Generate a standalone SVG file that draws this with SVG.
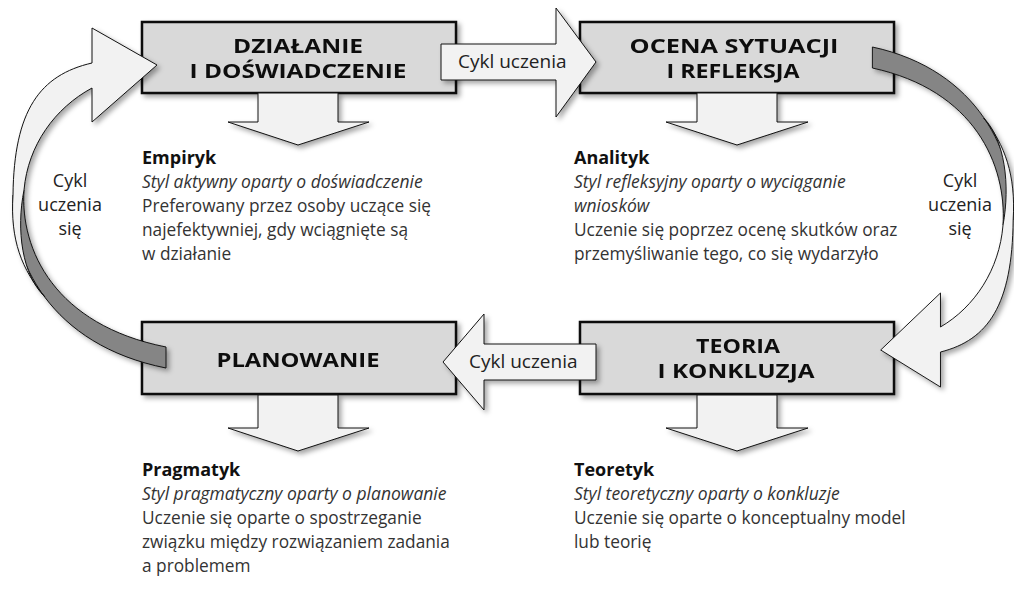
<svg xmlns="http://www.w3.org/2000/svg" width="1014" height="590" viewBox="0 0 1014 590">
<defs>
<filter id="sh" x="-20%" y="-20%" width="140%" height="140%">
<feDropShadow dx="3" dy="3" stdDeviation="2.5" flood-color="#000" flood-opacity="0.35"/>
</filter>
<style>
.box{fill:#d9d9d9;stroke:#111;stroke-width:2.5}
.arr{fill:#f2f2f2;stroke:#111;stroke-width:1}
.dark{fill:#858585;stroke:#111;stroke-width:1}
.ttl{font-family:"Open Sans",sans-serif;font-weight:bold;font-size:20px;fill:#111;text-anchor:middle}
.lbl{font-family:"Open Sans",sans-serif;font-size:19px;fill:#222}
.lblc{font-family:"Open Sans",sans-serif;font-size:18px;fill:#222;text-anchor:middle}
.hd{font-family:"Open Sans",sans-serif;font-weight:bold;font-size:18px;fill:#111}
.it{font-family:"Open Sans",sans-serif;font-style:italic;font-size:17.5px;fill:#333}
.tx{font-family:"Open Sans",sans-serif;font-size:17.3px;fill:#333}
</style>
<g id="curve">
<path class="dark" d="M13,195 C10,260 50,345 166,368 L166,347 C55,325 20,250 24,190 Z"/>
<path class="arr" d="M92,63 L92,28 L157,65 L92,122 L92,88 C55,108 28,145 24,190 C16,230 22,275 45,297 C22,270 10,240 13,195 C14,110 40,75 92,63 Z"/>
</g>
</defs>

<g id="node-dzialanie" filter="url(#sh)">
<rect class="box" x="142" y="22" width="314" height="71"/>
<text class="ttl" x="298" y="53" textLength="130" lengthAdjust="spacingAndGlyphs">DZIAŁANIE</text>
<text class="ttl" x="298" y="78" textLength="217" lengthAdjust="spacingAndGlyphs">I DOŚWIADCZENIE</text>
</g>
<g id="node-ocena" filter="url(#sh)">
<rect class="box" x="580" y="22" width="314" height="71"/>
<text class="ttl" x="734" y="53" textLength="209" lengthAdjust="spacingAndGlyphs">OCENA SYTUACJI</text>
<text class="ttl" x="733" y="78" textLength="133" lengthAdjust="spacingAndGlyphs">I REFLEKSJA</text>
</g>
<g id="node-planowanie" filter="url(#sh)">
<rect class="box" x="142" y="322" width="314" height="72"/>
<text class="ttl" x="298" y="367" textLength="163" lengthAdjust="spacingAndGlyphs">PLANOWANIE</text>
</g>
<g id="node-teoria" filter="url(#sh)">
<rect class="box" x="580" y="322" width="314" height="72"/>
<text class="ttl" x="738" y="353" textLength="84" lengthAdjust="spacingAndGlyphs">TEORIA</text>
<text class="ttl" x="736" y="378" textLength="157" lengthAdjust="spacingAndGlyphs">I KONKLUZJA</text>
</g>

<g id="connectors">
<g id="cycle-left" filter="url(#sh)"><use href="#curve"/></g>
<g id="cycle-right" filter="url(#sh)"><use href="#curve" transform="translate(72,0) scale(0.92,1) rotate(180 518 207.5)"/></g>
<g id="arrows" filter="url(#sh)">
<path class="arr" d="M441,44 H556 V8 L596,62 L556,117 V80 H441 Z"/>
<path class="arr" d="M596,344 H484 V314 L443,362 L484,410 V380 H596 Z"/>
<path class="arr" d="M258,93 V122 H228 L298,145 L369,122 H338 V93 Z"/>
<path class="arr" d="M697,93 V122 H666 L737,145 L808,122 H777 V93 Z"/>
<path class="arr" d="M258,395 V428 H228 L298,451 L369,428 H338 V395 Z"/>
<path class="arr" d="M697,395 V428 H666 L737,451 L808,428 H777 V395 Z"/>
</g>
</g>

<g id="labels">
<text class="lbl" x="458" y="68">Cykl uczenia</text>
<text class="lbl" x="469" y="368">Cykl uczenia</text>
<text class="lblc" x="70" y="187">Cykl</text>
<text class="lblc" x="70" y="211">uczenia</text>
<text class="lblc" x="70" y="235">się</text>
<text class="lblc" x="960" y="187">Cykl</text>
<text class="lblc" x="960" y="211">uczenia</text>
<text class="lblc" x="960" y="235">się</text>
</g>

<g id="desc-empiryk">
<text class="hd" x="142" y="164">Empiryk</text>
<text class="it" x="142" y="188">Styl aktywny oparty o doświadczenie</text>
<text class="tx" x="142" y="212">Preferowany przez osoby uczące się</text>
<text class="tx" x="142" y="236">najefektywniej, gdy wciągnięte są</text>
<text class="tx" x="142" y="260">w działanie</text>
</g>
<g id="desc-analityk">
<text class="hd" x="574" y="164">Analityk</text>
<text class="it" x="574" y="188">Styl refleksyjny oparty o wyciąganie</text>
<text class="it" x="574" y="212">wniosków</text>
<text class="tx" x="574" y="236">Uczenie się poprzez ocenę skutków oraz</text>
<text class="tx" x="574" y="260">przemyśliwanie tego, co się wydarzyło</text>
</g>
<g id="desc-pragmatyk">
<text class="hd" x="142" y="476">Pragmatyk</text>
<text class="it" x="142" y="500">Styl pragmatyczny oparty o planowanie</text>
<text class="tx" x="142" y="524">Uczenie się oparte o spostrzeganie</text>
<text class="tx" x="142" y="548">związku między rozwiązaniem zadania</text>
<text class="tx" x="142" y="572">a problemem</text>
</g>
<g id="desc-teoretyk">
<text class="hd" x="574" y="476">Teoretyk</text>
<text class="it" x="574" y="500">Styl teoretyczny oparty o konkluzje</text>
<text class="tx" x="574" y="524">Uczenie się oparte o konceptualny model</text>
<text class="tx" x="574" y="548">lub teorię</text>
</g>
</svg>
